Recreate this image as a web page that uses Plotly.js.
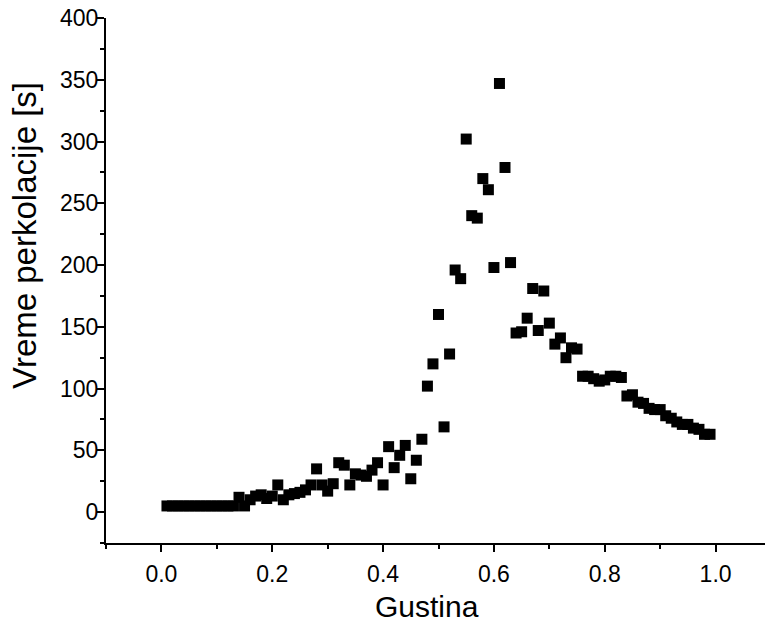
<!DOCTYPE html>
<html>
<head>
<meta charset="utf-8">
<script src="https://cdn.plot.ly/plotly-3.0.1.min.js"></script>
<style>
html,body{margin:0;padding:0;overflow:hidden;background:#fff;}
#chart{width:771px;height:625px;}
</style>
</head>
<body>
<div id="chart"></div>
<script>
const gustina = [0.01,0.02,0.03,0.04,0.05,0.06,0.07,0.08,0.09,0.10,
  0.11,0.12,0.13,0.14,0.15,0.16,0.17,0.18,0.19,0.20,
  0.21,0.22,0.23,0.24,0.25,0.26,0.27,0.28,0.29,0.30,
  0.31,0.32,0.33,0.34,0.35,0.36,0.37,0.38,0.39,0.40,
  0.41,0.42,0.43,0.44,0.45,0.46,0.47,0.48,0.49,0.50,
  0.51,0.52,0.53,0.54,0.55,0.56,0.57,0.58,0.59,0.60,
  0.61,0.62,0.63,0.64,0.65,0.66,0.67,0.68,0.69,0.70,
  0.71,0.72,0.73,0.74,0.75,0.76,0.77,0.78,0.79,0.80,
  0.81,0.82,0.83,0.84,0.85,0.86,0.87,0.88,0.89,0.90,
  0.91,0.92,0.93,0.94,0.95,0.96,0.97,0.98,0.99];
const vreme = [5,5,5,5,5,5,5,5,5,5,
  5,5,5,12,5,10,13,14,11,13,
  22,10,14,15,16,18,22,35,22,17,
  23,40,38,22,31,30,29,34,40,22,
  53,36,46,54,27,42,59,102,120,160,
  69,128,196,189,302,240,238,270,261,198,
  347,279,202,145,146,157,181,147,179,153,
  136,141,125,133,132,110,110,108,106,107,
  110,110,109,94,95,89,88,84,83,83,
  78,76,73,71,71,68,67,63,63];
const xTitle = 'Gustina';
const yTitle = 'Vreme perkolacije [s]';

const fam = 'Liberation Sans, Arial, sans-serif';
const tickFont = {size: 23, family: fam, color: '#000'};

Plotly.newPlot('chart', [{
  x: gustina, y: vreme, type: 'scatter', mode: 'markers',
  marker: {symbol: 'square', size: 11, color: '#000', line: {width: 0}},
  hoverinfo: 'skip'
}], {
  width: 771, height: 625,
  paper_bgcolor: '#fff', plot_bgcolor: '#fff',
  margin: {l: 106, r: 0, t: 18, b: 82, pad: 0},
  showlegend: false,
  font: {family: fam, color: '#000'},
  xaxis: {
    range: [-0.1, 1.1], tick0: 0, dtick: 0.2, tickformat: '.1f',
    showgrid: false, zeroline: false, showline: true, linecolor: '#000', linewidth: 2,
    ticks: 'outside', ticklen: 7, tickwidth: 2, tickcolor: '#000',
    minor: {dtick: 0.1, tick0: 0, ticks: 'outside', ticklen: 4, tickwidth: 2, tickcolor: '#000', showgrid: false},
    tickfont: tickFont,
    ticklabelstandoff: 2,
    automargin: false
  },
  yaxis: {
    range: [-25, 400], tick0: 0, dtick: 50,
    showgrid: false, zeroline: false, showline: true, linecolor: '#000', linewidth: 2,
    ticks: 'outside', ticklen: 7, tickwidth: 2, tickcolor: '#000',
    minor: {dtick: 25, tick0: 0, ticks: 'outside', ticklen: 4, tickwidth: 2, tickcolor: '#000', showgrid: false},
    tickfont: tickFont,
    ticklabelstandoff: -6,
    automargin: false
  },
  annotations: [
    {text: xTitle, xref: 'paper', yref: 'paper', x: 0.4827, y: -0.12,
     xanchor: 'center', yanchor: 'middle', showarrow: false,
     font: {size: 30, family: fam, color: '#000'}},
    {text: yTitle, xref: 'paper', yref: 'paper', x: -0.1218, y: 0.585, textangle: -90,
     xanchor: 'center', yanchor: 'middle', showarrow: false,
     font: {size: 33, family: fam, color: '#000'}}
  ]
}, {staticPlot: true});
</script>
</body>
</html>
